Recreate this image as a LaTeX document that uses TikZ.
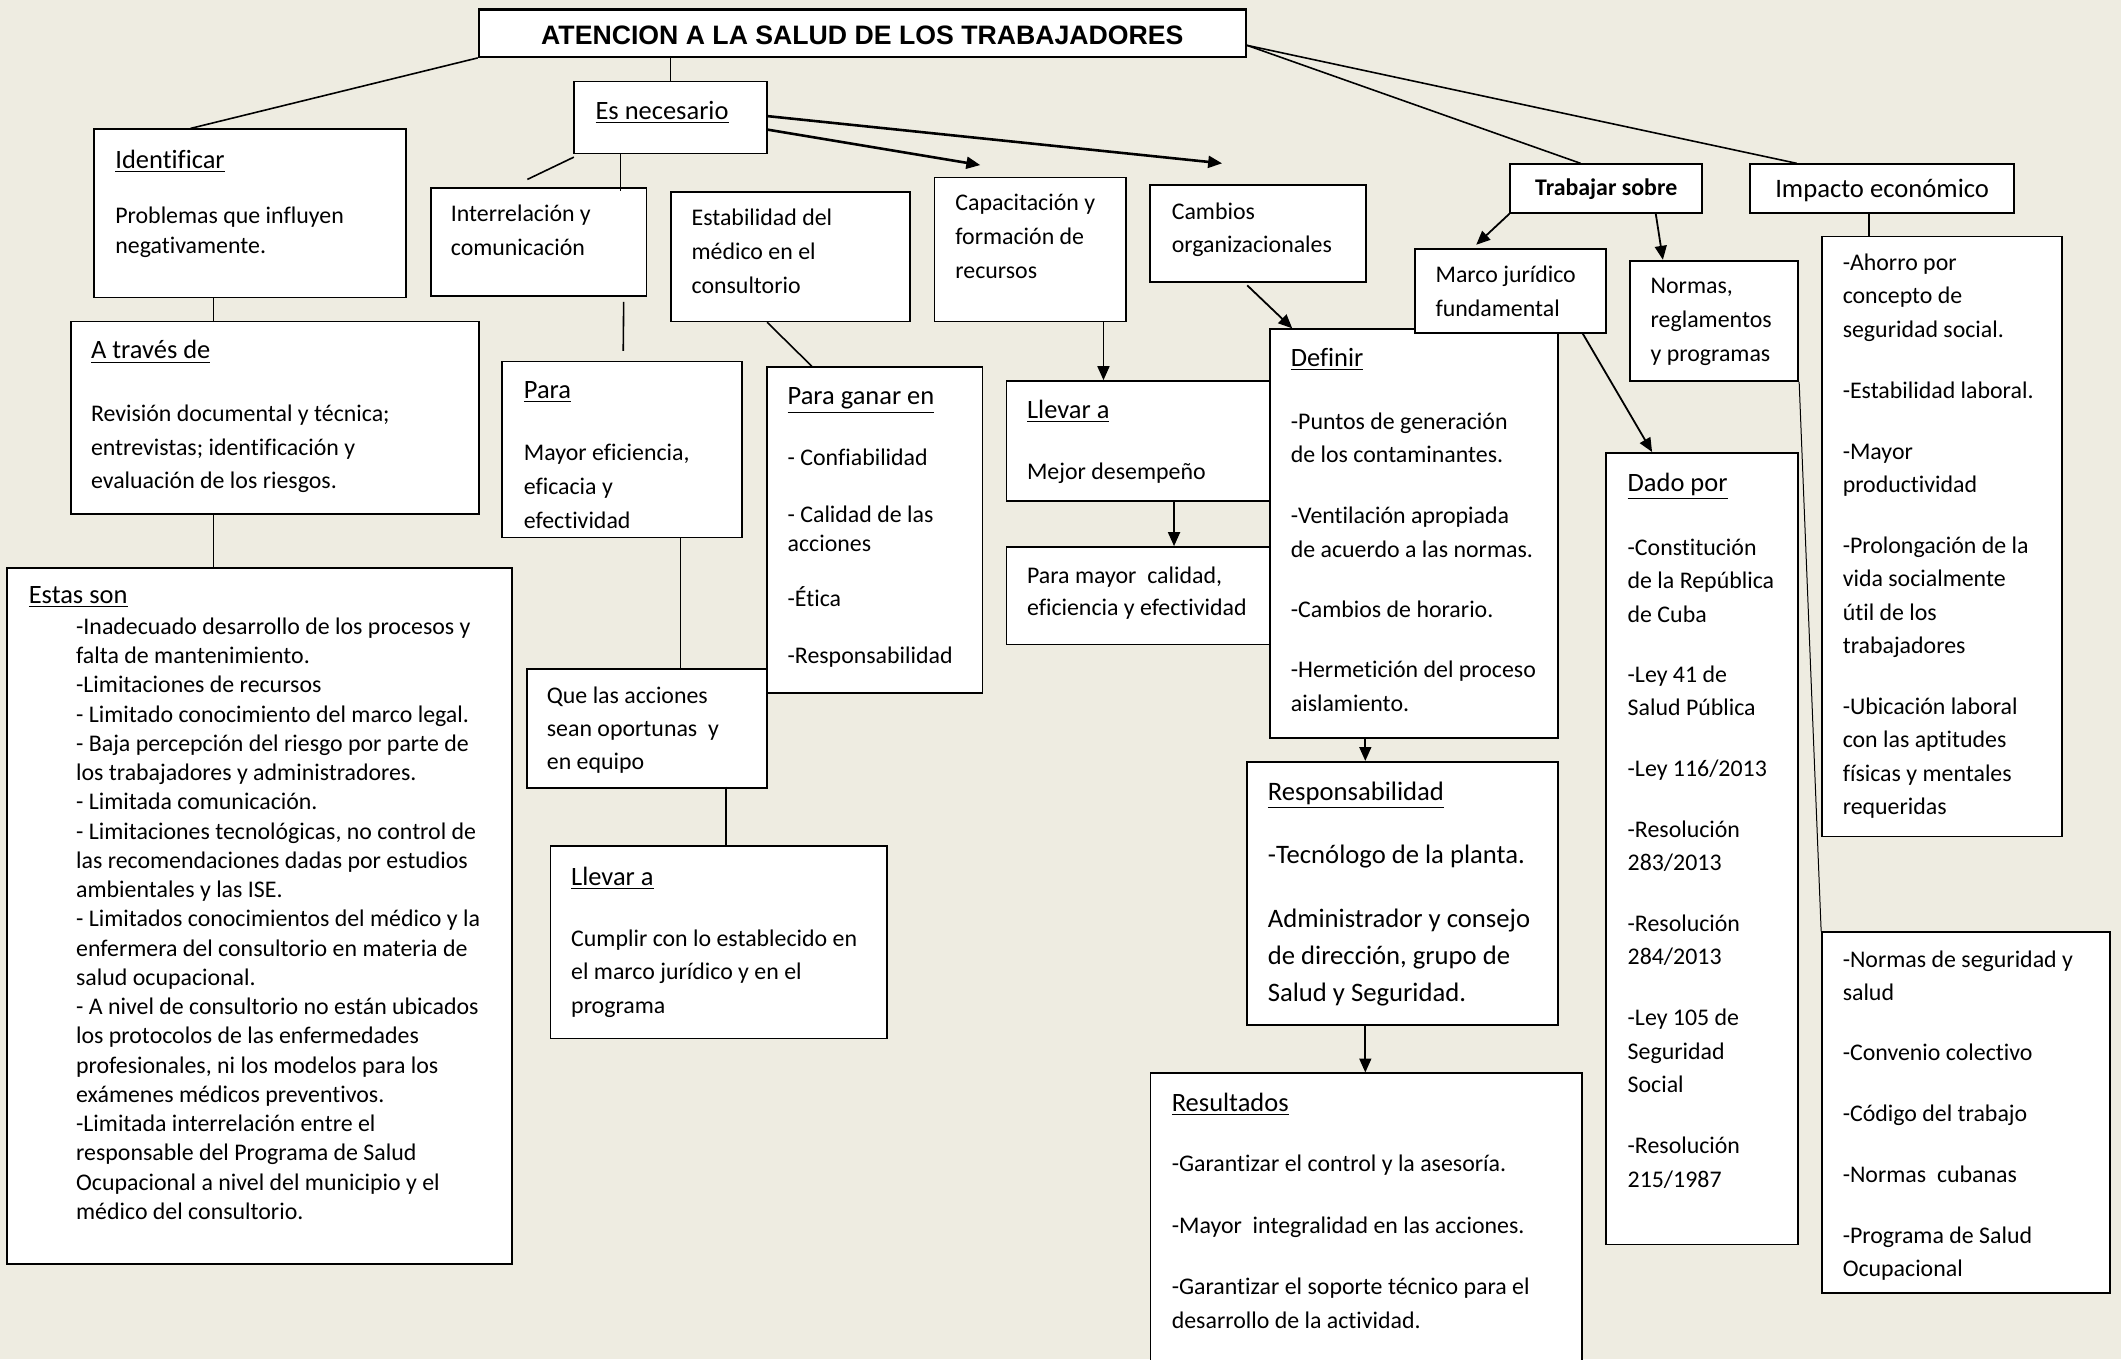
\documentclass[tikz,border=0pt]{standalone}
\usepackage{fontspec}
\setmainfont{Carlito}[Ligatures=CommonOff]
\newfontfamily\titlefont{Liberation Sans}
\usetikzlibrary{arrows.meta,fit}

\definecolor{fondo}{RGB}{238,236,225}

\newcommand{\encab}[1]{{\fontsize{13.3}{15}\selectfont\underline{#1}}}

\tikzset{
  caja/.style={draw, fill=white, line width=0.9pt, inner sep=0pt},
  texto/.style={anchor=north west, align=left, inner sep=0pt, yshift=-1pt, font=\fontsize{12}{17}\selectfont},
  linea/.style={line width=0.8pt},
  flecha/.style={line width=0.9pt, -{Triangle[length=7pt,width=6pt]}},
}

\begin{document}
\begin{tikzpicture}[x=0.68pt, y=-0.68pt]

	\fill[fondo] (0,0) rectangle (1568,1005);
	\useasboundingbox (0,0) rectangle (1568,1005);
	\clip (0,0) rectangle (1568,1005);

	% titulo
	\node[caja, line width=1.1pt, fit={(354,7) (921,42)}] (titulo) {};
	\node[font={\titlefont\bfseries\fontsize{13.4}{16}\selectfont}, yshift=-1pt] (titulo-txt) at (titulo.center) {ATENCION A LA SALUD DE LOS TRABAJADORES};

	% columna izquierda
	\node[caja, fit={(69.5,95.6) (300.4,219.9)}] (identificar) {};
	\node[texto, font=\fontsize{12}{15}\selectfont] (identificar-txt) at (85,109) {\encab{Identificar}\\[12.9pt]
		Problemas que influyen\\
		negativamente.};

	\node[caja, fit={(52.5,237.6) (353.9,379.7)}] (atraves) {};
	\node[texto] (atraves-txt) at (67,250) {\encab{A través de}\\[14.3pt]
		Revisión documental y técnica;\\
		entrevistas; identificación y\\
		evaluación de los riesgos.};

	\node[caja, fit={(5,419.7) (378.4,934.7)}] (estas) {};
	\node[texto] (estas-hd) at (21,432) {\encab{Estas son}};
	\node[texto, font=\fontsize{12}{14.7}\selectfont] (estas-txt) at (56,455) {-Inadecuado desarrollo de los procesos y\\
		falta de mantenimiento.\\
		-Limitaciones de recursos\\
		- Limitado conocimiento del marco legal.\\
		- Baja percepción del riesgo por parte de\\
		los trabajadores y administradores.\\
		- Limitada comunicación.\\
		- Limitaciones tecnológicas, no control de\\
		las recomendaciones dadas por estudios\\
		ambientales y las ISE.\\
		- Limitados conocimientos del médico y la\\
		enfermera del consultorio en materia de\\
		salud ocupacional.\\
		- A nivel de consultorio no están ubicados\\
		los protocolos de las enfermedades\\
		profesionales, ni los modelos para los\\
		exámenes médicos preventivos.\\
		-Limitada interrelación entre el\\
		responsable del Programa de Salud\\
		Ocupacional a nivel del municipio y el\\
		médico del consultorio.};

	% Es necesario
	\node[caja, fit={(424.4,60.2) (566.8,113.5)}] (esnec) {};
	\node[texto] (esnec-txt) at (440,73) {\encab{Es necesario}};

	\node[caja, fit={(318.4,139.1) (477.9,219.1)}] (interrel) {};
	\node[texto] (interrel-txt) at (333,150) {Interrelación y\\ comunicación};

	\node[caja, fit={(495.8,141.8) (672.8,237.6)}] (estab) {};
	\node[texto] (estab-txt) at (511,153) {Estabilidad del\\ médico en el\\ consultorio};

	\node[caja, fit={(690.8,131.2) (832.6,237.6)}] (capac) {};
	\node[texto] (capac-txt) at (706,142) {Capacitación y\\ formación de\\ recursos};

	\node[caja, fit={(850.1,136.8) (1010,208.3)}] (cambios) {};
	\node[texto] (cambios-txt) at (866,148) {Cambios\\ organizacionales};

	\node[caja, fit={(371.4,267.2) (548.8,397.4)}] (para) {};
	\node[texto] (para-txt) at (387,280) {\encab{Para}\\[14.3pt]
		Mayor eficiencia,\\ eficacia y\\ efectividad};

	\node[caja, fit={(566.8,271.4) (726.3,512.1)}] (paraganar) {};
	\node[texto, font=\fontsize{12}{14.3}\selectfont] (paraganar-txt) at (582,285) {\encab{Para ganar en}\\[16.3pt]
		- Confiabilidad\\[14.3pt]
		- Calidad de las\\ acciones\\[13.6pt]
		-Ética\\[14.3pt]
		-Responsabilidad};

	\node[caja, fit={(389.4,494.7) (566.8,582.8)}] (que) {};
	\node[texto, font=\fontsize{12}{16.7}\selectfont] (que-txt) at (404,506) {Que las acciones\\ sean oportunas\ \ y\\ en equipo};

	\node[caja, fit={(406.9,625.4) (655.8,767.7)}] (llevarb) {};
	\node[texto] (llevarb-txt) at (422,639) {\encab{Llevar a}\\[13.6pt]
		Cumplir con lo establecido en\\ el marco jurídico y en el\\ programa};

	% Llevar a / Definir
	\node[caja, fit={(744,281.7) (941,370.2)}] (llevarm) {};
	\node[texto] (llevarm-txt) at (759,294) {\encab{Llevar a}\\[13.6pt] Mejor desempeño};

	\node[caja, fit={(744,404.4) (941,476.5)}] (paramayor) {};
	\node[texto, font=\fontsize{12}{16.3}\selectfont] (paramayor-txt) at (759,417) {Para mayor\ \ calidad,\\ eficiencia y efectividad};

	\node[caja, fit={(939,243.4) (1152,545.4)}] (definir) {};
	\node[texto] (definir-txt) at (954,256) {\encab{Definir}\\[14.3pt]
		-Puntos de generación\\ de los contaminantes.\\[13.3pt]
		-Ventilación apropiada\\ de acuerdo a las normas.\\[13.3pt]
		-Cambios de horario.\\[13.3pt]
		-Hermetición del proceso\\ aislamiento.};

	\node[caja, fit={(921.6,563.2) (1152,758)}] (resp) {};
	\node[texto, font=\fontsize{13.4}{18.7}\selectfont] (resp-txt) at (937,576) {\underline{Responsabilidad}\\[13.3pt]
		-Tecnólogo de la planta.\\[13.3pt]
		Administrador y consejo\\ de dirección, grupo de\\ Salud y Seguridad.};

	\node[caja, fit={(850.6,793.5) (1169.5,1020)}] (result) {};
	\node[texto] (result-txt) at (866,806) {\encab{Resultados}\\[13.6pt]
		-Garantizar el control y la asesoría.\\[13.9pt]
		-Mayor\ \ integralidad en las acciones.\\[13.9pt]
		-Garantizar el soporte técnico para el\\ desarrollo de la actividad.};

	% Trabajar sobre
	\node[caja, fit={(1116.5,121.4) (1258.4,157.4)}] (trabajar) {};
	\node[font=\bfseries\fontsize{12}{14}\selectfont, yshift=-0.5pt] (trabajar-txt) at (trabajar.center) {Trabajar sobre};

	\node[caja, fit={(1046,184) (1187.5,246.1)}] (marco) {};
	\node[texto] (marco-txt) at (1061,195) {Marco jurídico\\ fundamental};

	\node[caja, fit={(1205,192.7) (1329.4,281.7)}] (normas) {};
	\node[texto] (normas-txt) at (1220,204) {Normas,\\ reglamentos\\ y programas};

	\node[caja, fit={(1187.5,334.8) (1329.4,920)}] (dado) {};
	\node[texto, font=\fontsize{12}{16.9}\selectfont] (dado-txt) at (1203,348) {\encab{Dado por}\\[15.1pt]
		-Constitución\\ de la República\\ de Cuba\\[13.1pt]
		-Ley 41 de\\ Salud Pública\\[13.6pt]
		-Ley 116/2013\\[13.6pt]
		-Resolución\\ 283/2013\\[13.6pt]
		-Resolución\\ 284/2013\\[13.6pt]
		-Ley 105 de\\ Seguridad\\ Social\\[13.6pt]
		-Resolución\\ 215/1987};

	\node[caja, fit={(1347,689.2) (1560,956)}] (normseg) {};
	\node[texto, font=\fontsize{12}{16.5}\selectfont] (normseg-txt) at (1362,701) {-Normas de seguridad y\\ salud\\[14.1pt]
		-Convenio colectivo\\[14.1pt]
		-Código del trabajo\\[14.1pt]
		-Normas\ \ cubanas\\[14.1pt]
		-Programa de Salud\\ Ocupacional};

	% Impacto economico
	\node[caja, fit={(1293.9,121.4) (1488.9,157.6)}] (impacto) {};
	\node[font=\fontsize{13.4}{16}\selectfont, yshift=-1pt] (impacto-txt) at (impacto.center) {Impacto económico};

	\node[caja, fit={(1347,174.8) (1524.4,618.4)}] (ahorro) {};
	\node[texto, font=\fontsize{12}{16.8}\selectfont] (ahorro-txt) at (1362,186) {-Ahorro por\\ concepto de\\ seguridad social.\\[13.8pt]
		-Estabilidad laboral.\\[13.8pt]
		-Mayor\\ productividad\\[13.8pt]
		-Prolongación de la\\ vida socialmente\\ útil de los\\ trabajadores\\[13.8pt]
		-Ubicación laboral\\ con las aptitudes\\ físicas y mentales\\ requeridas};

	% puntos de los conectores
	\coordinate (ident-top) at ([shift={(72,0)}]identificar.north west);
	\coordinate (tit-der) at ([shift={(0,9)}]titulo.east);
	\coordinate (trab-top) at ([shift={(-19,0)}]trabajar.north);
	\coordinate (imp-top) at ([shift={(35,0)}]impacto.north west);
	\coordinate (es-a) at ([shift={(0,-1)}]esnec.east);
	\coordinate (es-b) at ([shift={(0,9)}]esnec.east);
	\coordinate (camb-tip) at ([shift={(-26.6,-15.4)}]cambios.north);
	\coordinate (cap-tip) at ([shift={(-37,-8.5)}]capac.north);
	\coordinate (es-sw) at ([shift={(0.5,2)}]esnec.south west);
	\coordinate (inter-end) at ([shift={(-8.3,-5.8)}]interrel.north);
	\coordinate (es-bot) at ([shift={(35,0)}]esnec.south west);
	\coordinate (ident-bot) at ([shift={(89,0)}]identificar.south west);
	\coordinate (atr-bot) at ([shift={(106,0)}]atraves.south west);
	\coordinate (inter-a) at ([shift={(-17.5,3.4)}]interrel.south east);
	\coordinate (inter-b) at ([shift={(90,-7.2)}]para.north west);
	\coordinate (estab-bot) at ([shift={(72,0)}]estab.south west);
	\coordinate (pg-top) at ([shift={(34,0)}]paraganar.north west);
	\coordinate (cap-bot) at ([shift={(-17.5,0)}]capac.south east);
	\coordinate (llev-bot) at ([shift={(124.6,0)}]llevarm.south west);
	\coordinate (camb-bot) at ([shift={(-8,2)}]cambios.south);
	\coordinate (def-tip) at ([shift={(17,0)}]definir.north west);
	\coordinate (marco-tip) at ([shift={(46,-2.4)}]marco.north west);
	\coordinate (trab-bot) at ([shift={(-35,0)}]trabajar.south east);
	\coordinate (normas-top) at ([shift={(25,0)}]normas.north west);
	\coordinate (marco-bot) at ([shift={(-18,0)}]marco.south east);
	\coordinate (dado-top) at ([shift={(34.5,0)}]dado.north west);
	\coordinate (imp-bot) at ([shift={(88.6,0)}]impacto.south west);
	\coordinate (def-bot) at ([shift={(71,0)}]definir.south west);
	\coordinate (resp-bot) at ([shift={(88.4,0)}]resp.south west);
	\coordinate (para-bot) at ([shift={(132.4,0)}]para.south west);
	\coordinate (que-bot) at ([shift={(148,-2)}]que.south west);

	% conectores
	\draw[linea] (titulo.south west) -- (ident-top);
	\draw[linea] (titulo.south -| esnec.north) -- (esnec.north);
	\draw[linea] (tit-der) -- (trab-top);
	\draw[linea] (tit-der) -- (imp-top);
	\draw[flecha, line width=1.3pt] (es-a) -- (camb-tip);
	\draw[flecha, line width=1.3pt] (es-b) -- (cap-tip);
	\draw[linea] (es-sw) -- (inter-end);
	\draw[linea] (es-bot) -- (es-bot |- estab.north);
	\draw[linea] (ident-bot) -- (ident-bot |- atraves.north);
	\draw[linea] (atr-bot) -- (atr-bot |- estas.north);
	\draw[linea] (inter-a) -- (inter-b);
	\draw[linea] (estab-bot) -- (pg-top);
	\draw[linea] (para-bot) -- (para-bot |- que.north);
	\draw[linea] (que-bot) -- (que-bot |- llevarb.north);
	\draw[flecha] (cap-bot) -- (cap-bot |- llevarm.north);
	\draw[flecha] (llev-bot) -- (llev-bot |- paramayor.north);
	\draw[flecha] (camb-bot) -- (def-tip);
	\draw[flecha] (def-bot) -- (def-bot |- resp.north);
	\draw[flecha] (resp-bot) -- (resp-bot |- result.north);
	\draw[flecha] (trabajar.south west) -- (marco-tip);
	\draw[flecha] (trab-bot) -- (normas-top);
	\draw[flecha] (marco-bot) -- (dado-top);
	\draw[linea] (imp-bot) -- (imp-bot |- ahorro.north);
	\draw[line width=0.5pt] (normas.south east) -- (normseg.north west);

\end{tikzpicture}
\end{document}
